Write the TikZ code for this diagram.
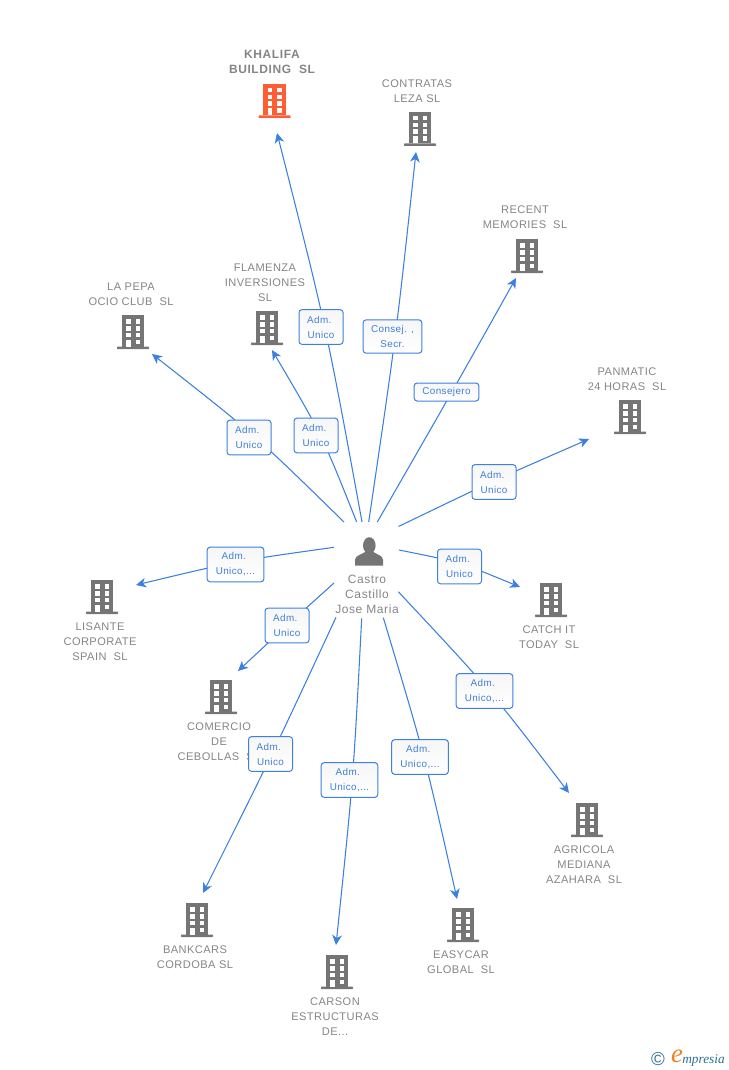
\documentclass[tikz,border=0pt]{standalone}
\usepackage{fontspec}
\setmainfont{Liberation Sans}
\newfontfamily\logofont{Liberation Serif}
\usetikzlibrary{arrows.meta,calc,backgrounds}
\definecolor{linkblue}{HTML}{3C80E0}
\definecolor{boxtext}{HTML}{3F7FD8}
\definecolor{labelgray}{HTML}{858585}
\definecolor{icongray}{HTML}{757575}
\definecolor{iconred}{HTML}{FF5E33}
\definecolor{logoteal}{HTML}{2F6F8F}
\definecolor{logoorange}{HTML}{F08020}
\newcommand\admword{Adm.\kern2.5pt}
\tikzset{
  x=0.75pt,y=-0.75pt,
  bldg/.pic={
    \fill[#1] (-11.2,-34) rectangle (11.2,-2.5);
    \fill[#1,rounded corners=0.5pt] (-16,-2.5) rectangle (16,0);
    \foreach \yy in {-30,-23,-16.5}{
      \fill[white] (-7,\yy) rectangle (-2.3,\yy+4.5);
      \fill[white] (2.5,\yy) rectangle (7.3,\yy+4.5);
    }
    \fill[white] (-7,-9.5) rectangle (-2.3,-2.5);
    \fill[white] (2.5,-9.5) rectangle (7.3,-5.2);
  },
  namelabel/.style={text=labelgray,font=\fontsize{8.3pt}{11.25pt}\selectfont\addfontfeature{LetterSpace=4},align=center,inner sep=0pt,yshift=-0.75pt},
  mainlabel/.style={text=labelgray,align=center,inner sep=0pt,font=\fontsize{9pt}{11.25pt}\selectfont\bfseries\addfontfeature{LetterSpace=5}},
  personlabel/.style={text=labelgray,align=center,inner sep=0pt,font=\fontsize{9pt}{11.25pt}\selectfont\addfontfeature{LetterSpace=5}},
  rolebox/.style={draw=linkblue,line width=0.75pt,rounded corners=2.2pt,fill=white,top color=gray!7,bottom color=white,text=boxtext,
    font=\fontsize{7.4pt}{11.25pt}\selectfont\addfontfeature{LetterSpace=4},align=center,inner sep=0pt,minimum width=#1},
  rolebox/.default=33pt,
  linkarrow/.style={draw=linkblue,line width=0.8pt,-{Stealth[length=7.5pt,width=7.2pt,inset=2.2pt]}},
}
\begin{document}
\begin{tikzpicture}
\useasboundingbox (0,0) rectangle (728,1070);

% building icons
\path (274.5,118) pic {bldg=iconred};
\path (420,146) pic {bldg=icongray};
\path (527,273) pic {bldg=icongray};
\path (630,434) pic {bldg=icongray};
\path (133,349) pic {bldg=icongray};
\path (267,345) pic {bldg=icongray};
\path (102,614) pic {bldg=icongray};
\path (551,617) pic {bldg=icongray};
\path (221,714) pic {bldg=icongray};
\path (197,937) pic {bldg=icongray};
\path (337,989) pic {bldg=icongray};
\path (463,942) pic {bldg=icongray};
\path (587,837) pic {bldg=icongray};

% person icon
\fill[icongray] (369.3,545.5) ellipse (6.3 and 8.3);
\fill[icongray] (355,565.5) -- (355,560) .. controls (355,555.5) and (361,555) .. (365,552) -- (373.5,552) .. controls (377.5,555) and (383,555.5) .. (383,560) -- (383,565.5) -- cycle;

% names
\node[mainlabel] (khalifa) at (272,61.5) {KHALIFA\\BUILDING\ \ SL};
\node[namelabel] (contratas) at (417,90.5) {CONTRATAS\\LEZA SL};
\node[namelabel] (recent) at (525,216.5) {RECENT\\MEMORIES\ \ SL};
\node[namelabel] (panmatic) at (627,378.5) {PANMATIC\\24 HORAS\ \ SL};
\node[namelabel] (lapepa) at (131,293.5) {LA PEPA\\OCIO CLUB\ \ SL};
\node[namelabel] (flamenza) at (265,282) {FLAMENZA\\INVERSIONES\\SL};
\node[namelabel] (lisante) at (100,641) {LISANTE\\CORPORATE\\SPAIN\ \ SL};
\node[namelabel] (catch) at (549,636.5) {CATCH IT\\TODAY\ \ SL};
\node[namelabel] (comercio) at (219,741) {COMERCIO\\DE\\CEBOLLAS\ \ SL};
\node[namelabel] (bankcars) at (195,956.5) {BANKCARS\\CORDOBA SL};
\node[namelabel] (carson) at (335,1016) {CARSON\\ESTRUCTURAS\\DE...};
\node[namelabel] (easycar) at (461,961.5) {EASYCAR\\GLOBAL\ \ SL};
\node[namelabel] (agricola) at (584,864) {AGRICOLA\\MEDIANA\\AZAHARA\ \ SL};
\node[personlabel] (castro) at (367,594) {Castro\\Castillo\\Jose Maria};

% role boxes
\node[rolebox,minimum height=26pt] (b1) at (321,327) {\admword\\Unico};
\node[rolebox=44pt,minimum height=25pt] (b2) at (392.5,336.5) {Consej. ,\\Secr.};
\node[rolebox=48.5pt,minimum height=13.5pt] (b3) at (446.5,392) {Consejero};
\node[rolebox,minimum height=26pt] (b4) at (494,482) {\admword\\Unico};
\node[rolebox,minimum height=26pt] (b5) at (249,437.5) {\admword\\Unico};
\node[rolebox,minimum height=26pt] (b6) at (316,435.5) {\admword\\Unico};
\node[rolebox=42.5pt,minimum height=26pt] (b7) at (235.5,564.5) {\admword\\Unico,...};
\node[rolebox,minimum height=26pt] (b8) at (459.5,566.5) {\admword\\Unico};
\node[rolebox,minimum height=26pt] (b9) at (287,625.5) {\admword\\Unico};
\node[rolebox,minimum height=26pt] (b10) at (270.5,754) {\admword\\Unico};
\node[rolebox=42.5pt,minimum height=26pt] (b11) at (349.5,780) {\admword\\Unico,...};
\node[rolebox=42.5pt,minimum height=26pt] (b12) at (420,757) {\admword\\Unico,...};
\node[rolebox=42.5pt,minimum height=26pt] (b13) at (484.5,691) {\admword\\Unico,...};

% connector ends and the point each curve passes behind its box
\coordinate (s1) at (362,522);    \coordinate (m1) at (324.6,327);  \coordinate (e1) at (277,133);
\coordinate (s2) at (368.7,522);  \coordinate (m2) at (395.2,336);  \coordinate (e2) at (416,152);
\coordinate (s3) at (377.3,522);  \coordinate (m3) at (452,391.7);  \coordinate (e3) at (516,278);
\coordinate (s4) at (398.5,526.5);\coordinate (m4) at (494,481);    \coordinate (e4) at (589,439);
\coordinate (s5) at (344,522);    \coordinate (m5) at (252.5,435);  \coordinate (e5) at (152,354);
\coordinate (s6) at (356.7,522);  \coordinate (m6) at (320,435);    \coordinate (e6) at (272,350);
\coordinate (s7) at (334,547.3);  \coordinate (m7) at (235.7,562.3);\coordinate (e7) at (136,585);
\coordinate (s8) at (399,550);    \coordinate (m8) at (459.7,563.7);\coordinate (e8) at (520,587);
\coordinate (s9) at (334,583);    \coordinate (m9) at (287,625.5);  \coordinate (e9) at (238,671);
\coordinate (s10) at (336,617.3); \coordinate (m10) at (272,753.8); \coordinate (e10) at (203,893);
\coordinate (s11) at (361.7,618.3);\coordinate (m11) at (352.2,780);\coordinate (e11) at (336,945);
\coordinate (s12) at (383.3,617.7);\coordinate (m12) at (423.7,756.7);\coordinate (e12) at (457,899);
\coordinate (s13) at (398.3,591.7);\coordinate (m13) at (489,691);  \coordinate (e13) at (569,793);

\begin{scope}[on background layer]
\foreach \i in {1,...,13}{
  \draw[linkarrow] (s\i) .. controls ($1.33333*(m\i)-0.16667*(s\i)-0.16667*(e\i)$) .. (e\i);
}
\end{scope}

% logo
\node[inner sep=0pt,text=logoteal,font=\fontsize{14pt}{14pt}\selectfont] (copy) at (658,1059) {©};
\node[inner sep=0pt,text=logoorange,font=\logofont\itshape\fontsize{20pt}{20pt}\selectfont] (logoe) at (677,1056) {e};
\node[inner sep=0pt,anchor=west,text=logoteal,font=\logofont\itshape\fontsize{10pt}{10pt}\selectfont] (logotext) at (682,1060) {mpresia};
\end{tikzpicture}
\end{document}
